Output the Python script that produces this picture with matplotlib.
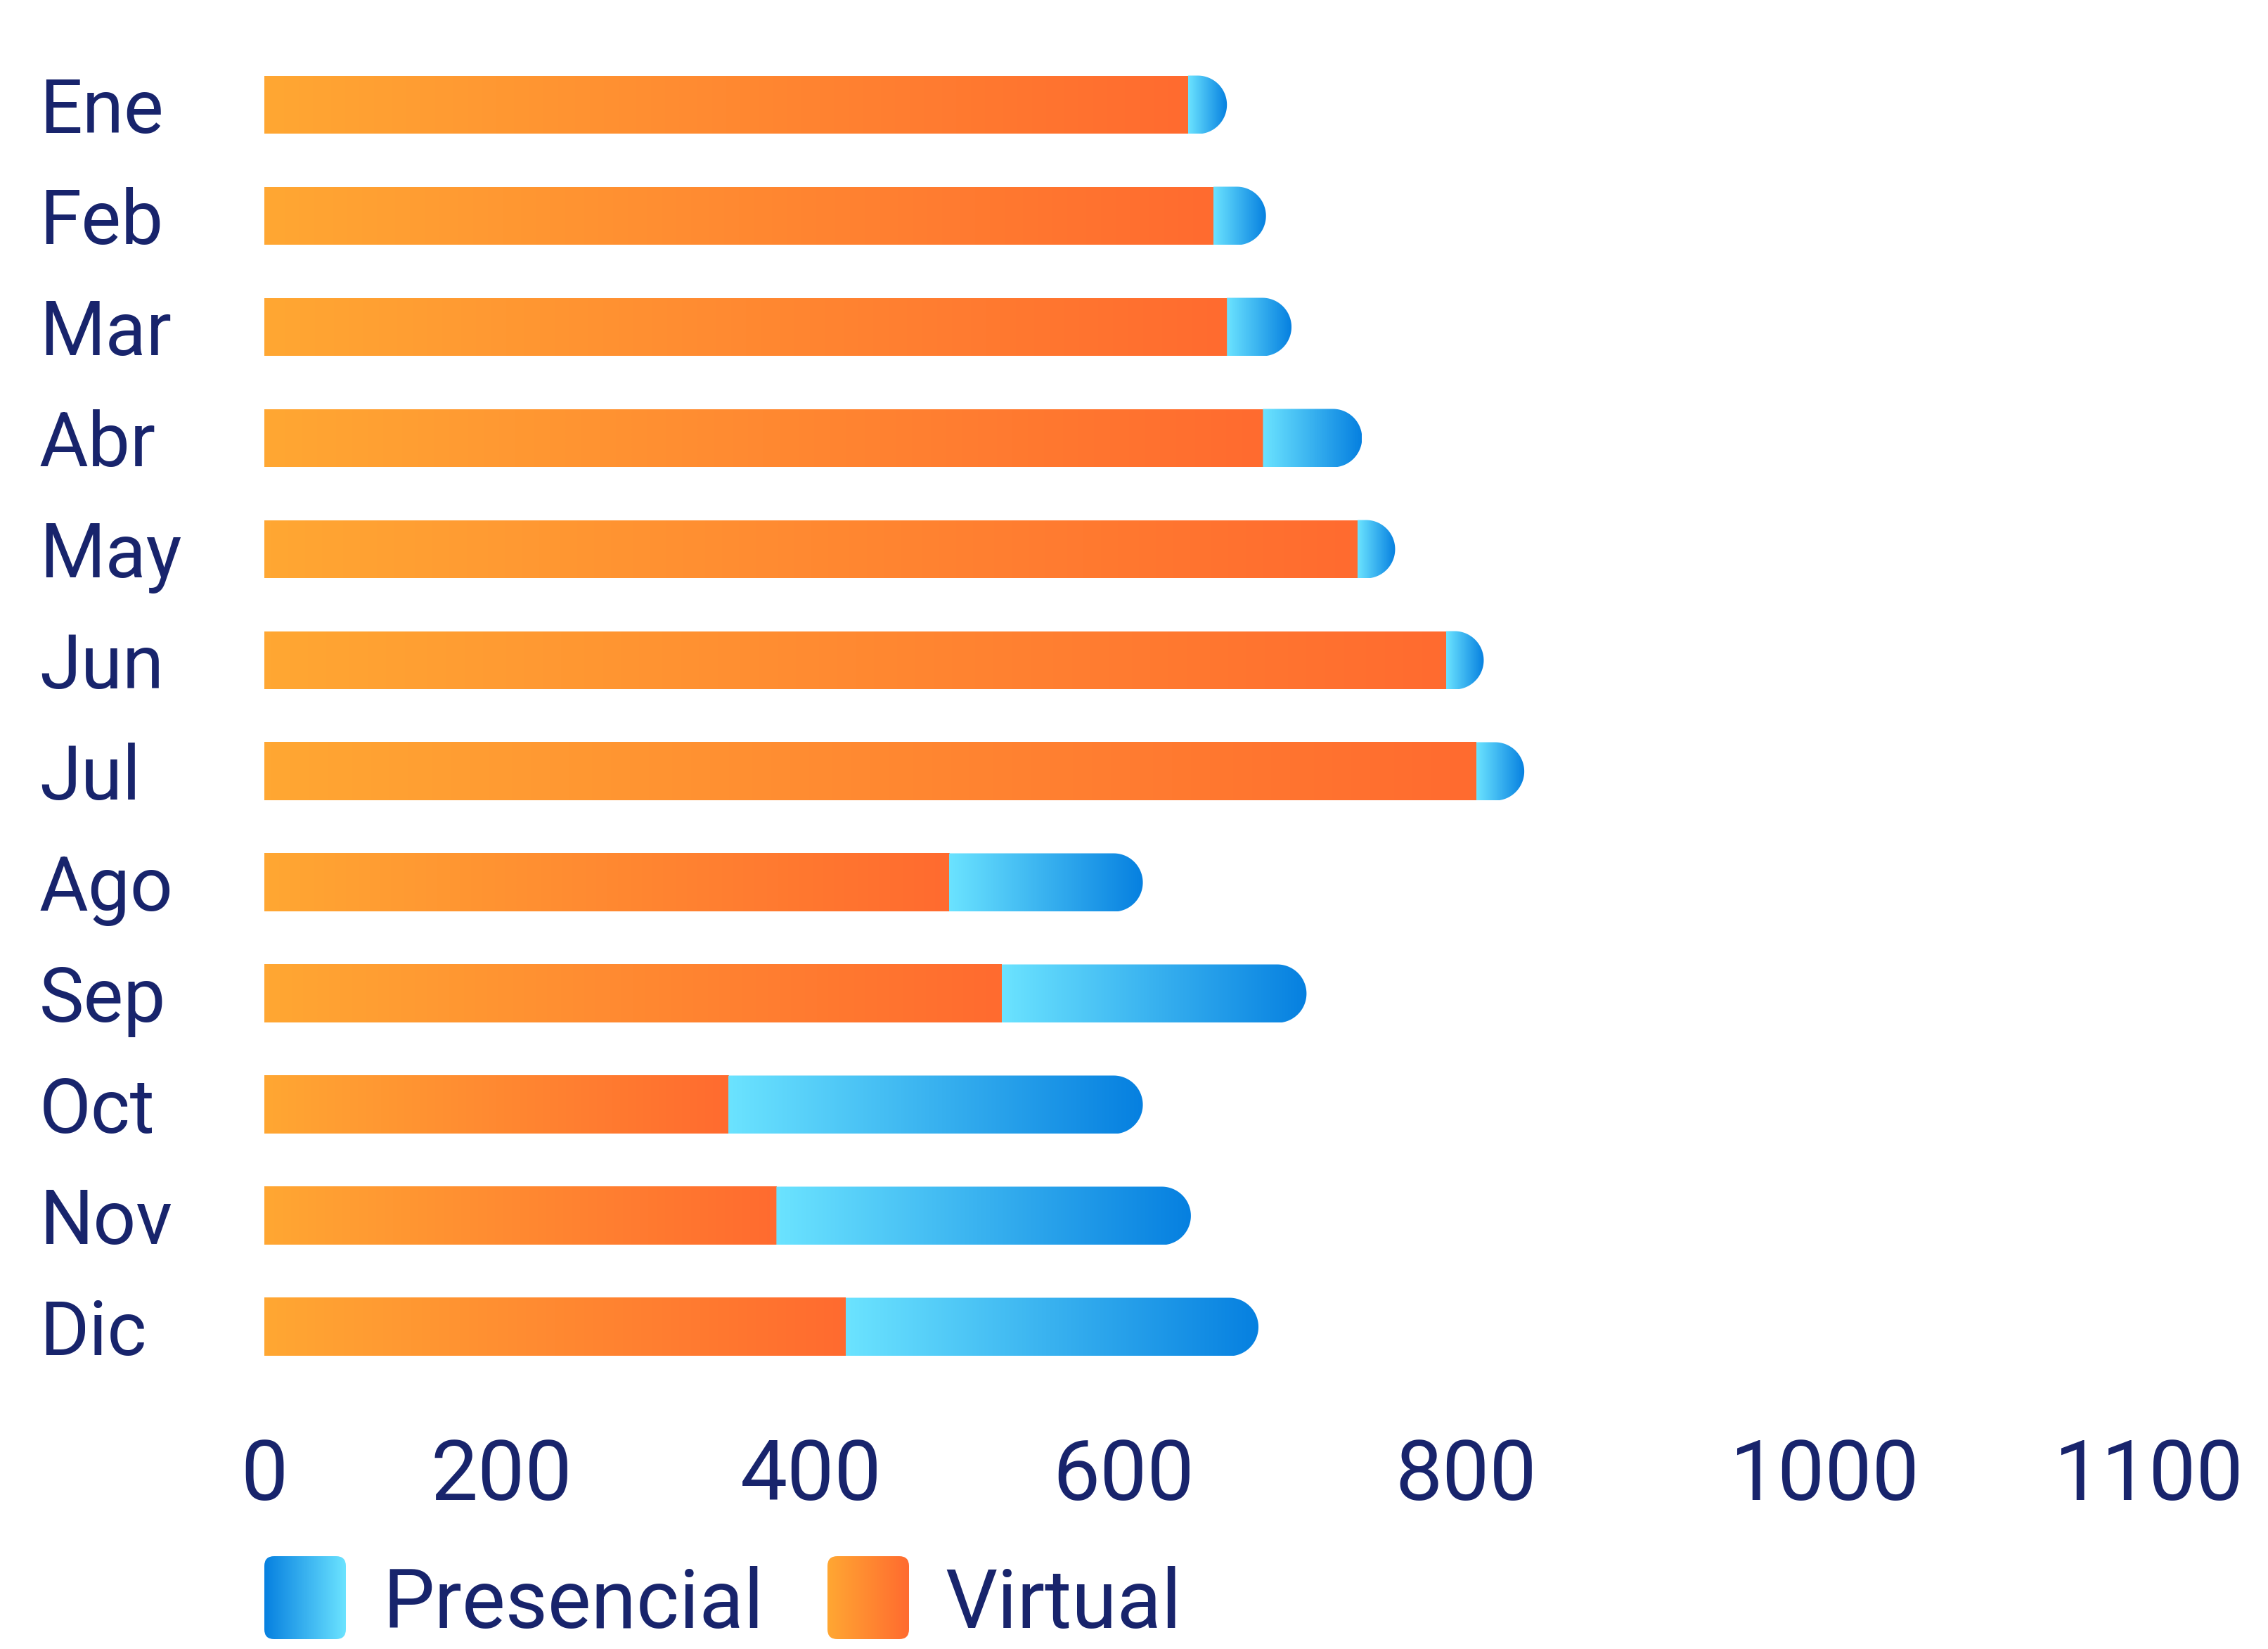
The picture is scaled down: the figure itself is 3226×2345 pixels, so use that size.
import numpy as np
import matplotlib.pyplot as plt
from matplotlib.path import Path
from matplotlib.patches import PathPatch, Rectangle, FancyBboxPatch
from matplotlib.colors import LinearSegmentedColormap

# Data: virtual and in-person ("presencial") counts per month
months = ['Ene', 'Feb', 'Mar', 'Abr', 'May', 'Jun', 'Jul', 'Ago', 'Sep', 'Oct', 'Nov', 'Dic']
virtual = [615, 632, 641, 665, 728, 787, 807, 456, 491, 309, 341, 387]
presencial = [26, 35, 43, 66, 25, 25, 32, 129, 203, 276, 276, 275]

# x axis labels (the original chart places them unevenly)
tick_labels = ['0', '200', '400', '600', '800', '1000', '1100']
tick_slots = [0, 158, 364, 572, 800, 1039, 1255]

navy = '#18246C'
orange_cmap = LinearSegmentedColormap.from_list('virt', ['#FFA733', '#FF6B2F'])
blue_cmap = LinearSegmentedColormap.from_list('pres', ['#6BE3FF', '#0680E0'])
blue_cmap_r = LinearSegmentedColormap.from_list('pres_r', ['#0680E0', '#6BE3FF'])

plt.rcParams['font.family'] = ['Roboto', 'DejaVu Sans']

W, H = 3226, 2345
fig = plt.figure(figsize=(W / 100, H / 100), dpi=100)

# main axes: bars start at x=376px, last row ends above the tick labels
ax_left, ax_bottom_px = 376, 1990
ax = fig.add_axes([ax_left / W, (H - ax_bottom_px) / H, 1 - ax_left / W, ax_bottom_px / H])
px_per_unit = 2.136
row_px = 158.0
first_row_px = 149
xlim = (0, (W - ax_left) / px_per_unit)
ylim = ((ax_bottom_px - first_row_px) / row_px, -first_row_px / row_px)
ax.set_xlim(*xlim)
ax.set_ylim(*ylim)

bar_h = 83 / row_px
grad = np.linspace(0, 1, 256).reshape(1, -1)

# radius of the rounded end in data units (a circle in pixels)
ry = bar_h / 2
rx = ry * row_px / px_per_unit

for i in range(len(months)):
    y0 = i - bar_h / 2
    y1 = i + bar_h / 2
    v = virtual[i]
    p = presencial[i]

    # Virtual segment: orange gradient rectangle
    rect = Rectangle((0, y0), v, bar_h, facecolor='none', edgecolor='none')
    ax.add_patch(rect)
    im = ax.imshow(grad, cmap=orange_cmap, extent=(0, v, y0, y1),
                   aspect='auto', interpolation='bilinear', zorder=2)
    im.set_clip_path(rect)

    # Presencial segment: blue gradient with a rounded right end
    xs = v
    xe = v + p
    t = np.linspace(-np.pi / 2, np.pi / 2, 60)
    arc = [(xe - rx + rx * np.cos(a), i + ry * np.sin(a)) for a in t]
    verts = [(xs, y0)] + [(xe - rx, y0)] + arc + [(xe - rx, y1), (xs, y1), (xs, y0)]
    codes = [Path.MOVETO] + [Path.LINETO] * (len(verts) - 2) + [Path.CLOSEPOLY]
    cap = PathPatch(Path(verts, codes), facecolor='none', edgecolor='none')
    ax.add_patch(cap)
    im2 = ax.imshow(grad, cmap=blue_cmap, extent=(xs, xe, y0, y1),
                    aspect='auto', interpolation='bilinear', zorder=3)
    im2.set_clip_path(cap)

ax.set_xlim(*xlim)
ax.set_ylim(*ylim)

# Axis labels
ax.set_xticks(tick_slots)
ax.set_xticklabels(tick_labels, fontsize=86, color=navy)
ax.set_yticks(range(len(months)))
ax.set_yticklabels(months, fontsize=77, color=navy, ha='left')
ax.tick_params(axis='x', length=0, pad=39)
ax.tick_params(axis='y', length=0, pad=(ax_left - 56) * 0.72)
for s in ax.spines.values():
    s.set_visible(False)
ax.patch.set_visible(False)

# Legend drawn by hand with gradient swatches
lax = fig.add_axes([0, 0, 1, 1])
lax.set_xlim(0, W)
lax.set_ylim(H, 0)
lax.axis('off')

legend_items = [('Presencial', blue_cmap_r, 376, 544), ('Virtual', orange_cmap, 1177, 1344)]
for label, cmap, sx, tx in legend_items:
    box = FancyBboxPatch((sx, 2213), 116, 118, boxstyle='round,pad=0,rounding_size=14',
                         facecolor='none', edgecolor='none')
    lax.add_patch(box)
    im = lax.imshow(grad, cmap=cmap, extent=(sx, sx + 116, 2331, 2213),
                    aspect='auto', interpolation='bilinear')
    im.set_clip_path(box)
    lax.text(tx, 2283, label, fontsize=84, color=navy, va='center', ha='left')
lax.set_xlim(0, W)
lax.set_ylim(H, 0)

fig.savefig('out.png', dpi=100)
